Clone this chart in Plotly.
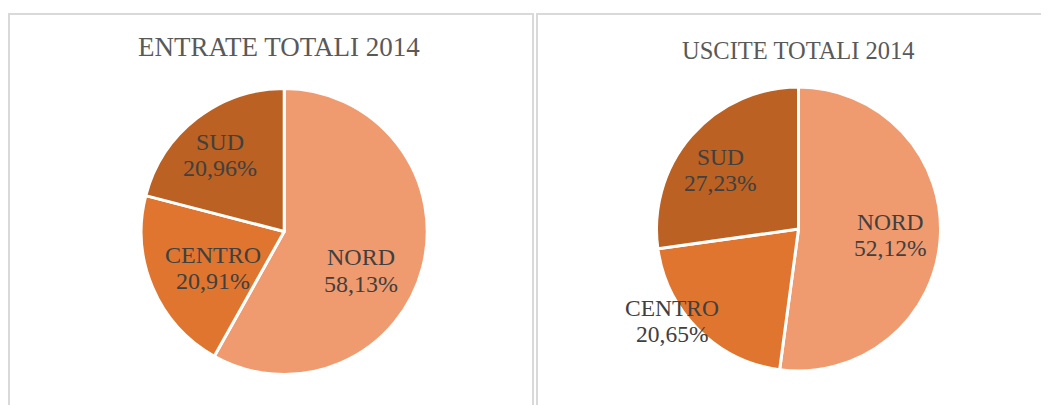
import math
import plotly.graph_objects as go

# ---- data ----
regions = ["NORD", "CENTRO", "SUD"]
entrate_2014 = [58.13, 20.91, 20.96]
uscite_2014 = [52.12, 20.65, 27.23]
titles = ["ENTRATE TOTALI 2014", "USCITE TOTALI 2014"]

# ---- style ----
W, H = 1049, 405
OFF = 8  # default page body margin
colors = ["#F09A6F", "#DF752E", "#BA6123"]
text_color = "#404040"
title_color = "#595959"
border_color = "#D9D9D9"
serif = "Times New Roman, Liberation Serif, serif"

# pie geometry (screen pixels): center x, center y, radius
geoms = [(284.2, 231.5, 143.0), (798.5, 229.0, 142.0)]
title_pos = [(278.5, 46.5, 27), (798.5, 50.0, 24.5)]
label_size = [24, 23.5]
# label placement per slice: (radius fraction, angle shift in degrees)
label_place = [
    [(0.60, 12.3), (0.56, -3.9), (0.70, -2.2)],
    [(0.646, 0.0), (1.10, 9.2), (0.69, -4.1)],
]


def px2paper(x, y):
    return (x - OFF) / W, 1 - (y - OFF) / H


fig = go.Figure()
annotations = []
for k, vals in enumerate([entrate_2014, uscite_2014]):
    cx, cy, r = geoms[k]
    x0, y0 = px2paper(cx - r, cy + r)
    x1, y1 = px2paper(cx + r, cy - r)
    fig.add_trace(go.Pie(
        labels=regions,
        values=vals,
        sort=False,
        direction="clockwise",
        rotation=0,
        textinfo="none",
        marker=dict(colors=colors, line=dict(color="white", width=3)),
        domain=dict(x=[x0, x1], y=[y0, y1]),
        showlegend=False,
        hoverinfo="label+percent",
    ))
    total = sum(vals)
    cum = 0.0
    fs = label_size[k]
    for i, (lab, v) in enumerate(zip(regions, vals)):
        mid = (cum + v / 2) / total * 360.0
        cum += v
        frac, shift = label_place[k][i]
        a = math.radians(mid + shift)
        lx = cx + frac * r * math.sin(a)
        ly = cy - frac * r * math.cos(a)
        pct = f"{v:.2f}".replace(".", ",") + "%"
        for line_txt, dy in [(lab, -0.55 * fs), (pct, 0.55 * fs)]:
            px_, py_ = px2paper(lx, ly + dy)
            annotations.append(dict(
                x=px_, y=py_, xref="paper", yref="paper", text=line_txt,
                showarrow=False, xanchor="center", yanchor="middle",
                font=dict(family=serif, size=fs, color=text_color),
            ))
    tx, ty, ts = title_pos[k]
    tpx, tpy = px2paper(tx, ty)
    annotations.append(dict(
        x=tpx, y=tpy, xref="paper", yref="paper", text=titles[k],
        showarrow=False, xanchor="center", yanchor="middle",
        font=dict(family=serif, size=ts, color=title_color),
    ))

shapes = []
for (bx0, bx1) in [(9, 533), (537, 1070)]:
    sx0, sy0 = px2paper(bx0, 14)
    sx1, sy1 = px2paper(bx1, 430)
    shapes.append(dict(type="rect", xref="paper", yref="paper",
                       x0=sx0, x1=sx1, y0=sy1, y1=sy0,
                       line=dict(color=border_color, width=2),
                       fillcolor="rgba(0,0,0,0)", layer="below"))

fig.update_layout(
    width=W, height=H,
    margin=dict(l=0, r=0, t=0, b=0),
    paper_bgcolor="white", plot_bgcolor="white",
    annotations=annotations,
    shapes=shapes,
)

fig.write_html("out.html")
